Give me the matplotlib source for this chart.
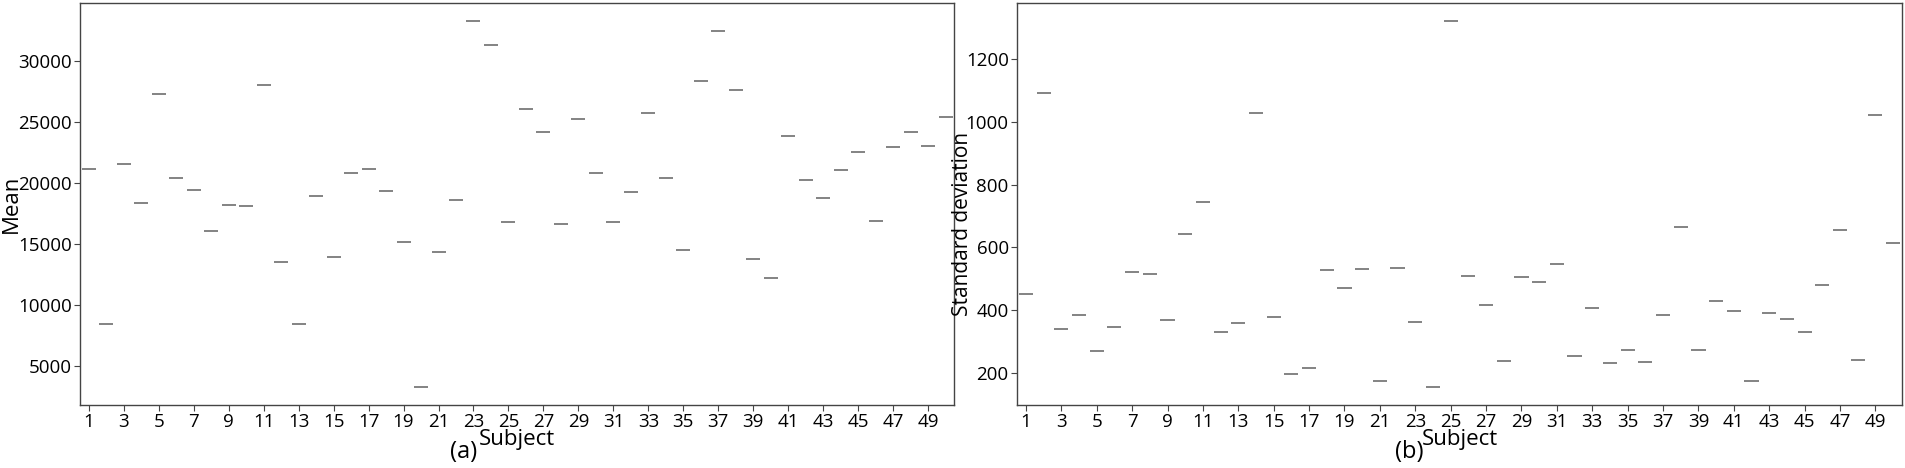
import numpy as np
import matplotlib.pyplot as plt

plt.rcParams['font.family'] = ['Open Sans', 'DejaVu Sans']

subjects = np.arange(1, 51)
# mean per subject (panel a)
mean_vals = [21108, 8465, 21566, 18324, 27273, 20371, 19437, 16056, 18185, 18075,
             28035, 13542, 8440, 18946, 13927, 20829, 21157, 19356, 15180, 3283,
             14336, 18569, 33290, 31285, 16817, 26045, 24137, 16653, 25251, 20780,
             16817, 19224, 25718, 20420, 14500, 28338, 32407, 27601, 13763, 12207,
             23810, 20207, 18758, 21050, 22549, 16899, 22934, 24162, 23016, 25415]
# standard deviation per subject (panel b)
std_vals = [452, 1092, 339, 385, 270, 347, 523, 515, 368, 642,
            746, 331, 360, 1027, 379, 197, 215, 527, 470, 531,
            174, 534, 361, 154, 1321, 510, 417, 237, 506, 489,
            547, 254, 406, 232, 273, 234, 384, 666, 272, 430,
            397, 174, 391, 372, 332, 480, 656, 241, 1022, 614]
xticks = np.arange(1, 51, 2)

fig = plt.figure(figsize=(19.05, 4.68), dpi=100)
ax1 = fig.add_axes([0.042, 0.1346, 0.4590, 0.86])
ax2 = fig.add_axes([0.5339, 0.1346, 0.4645, 0.86])

def panel(ax, vals, ylim, yticks, ylabel, lab_x, lab_y, lab_size):
    ax.hlines(vals, subjects - 0.4, subjects + 0.4, color='#6e6e6e', lw=1.2)
    ax.set_xlim(0.5, 50.5)
    ax.set_ylim(*ylim)
    ax.set_xticks(xticks)
    ax.set_yticks(yticks)
    ax.tick_params(labelsize=13.5, length=4, width=0.8, color='#444444', pad=2)
    for s in ax.spines.values():
        s.set_color('#444444')
        s.set_linewidth(1.0)
    ax.set_ylabel(ylabel, fontsize=lab_size)
    ax.yaxis.set_label_coords(lab_x, lab_y)
    ax.set_xlabel('Subject', fontsize=16)
    ax.xaxis.set_label_coords(0.5, -0.06)

panel(ax1, mean_vals, (1800, 34770), [5000, 10000, 15000, 20000, 25000, 30000],
      'Mean', -0.066, 0.5, 16)
panel(ax2, std_vals, (98, 1380), [200, 400, 600, 800, 1000, 1200],
      'Standard deviation', -0.05, 0.45, 15)

fig.text(464 / 1905, 1 - 452 / 468, '(a)', fontsize=17, ha='center', va='center')
fig.text(1409 / 1905, 1 - 452 / 468, '(b)', fontsize=17, ha='center', va='center')

fig.savefig('out.png', dpi=100)
